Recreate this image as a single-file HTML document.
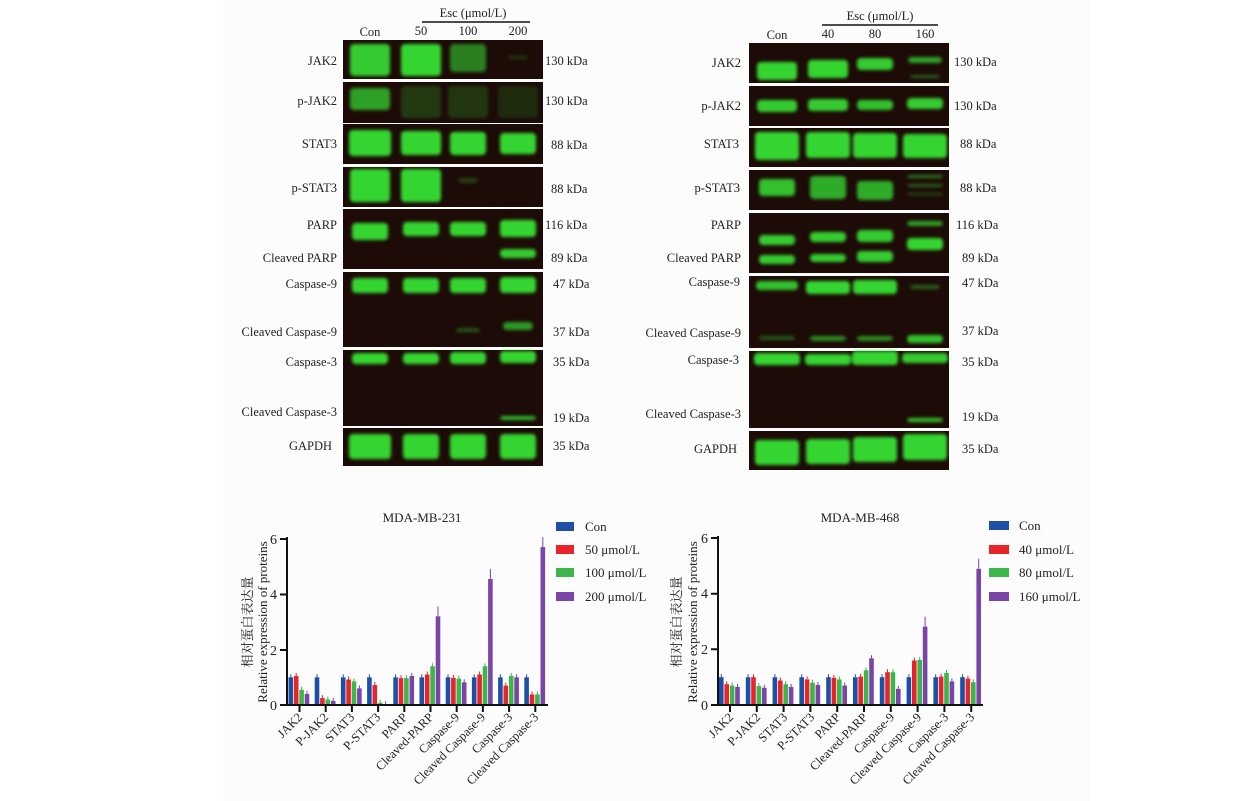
<!DOCTYPE html>
<html><head><meta charset="utf-8"><style>
html,body{margin:0;padding:0;background:#fff;}
#wrap{position:relative;width:1255px;height:801px;overflow:hidden;background:#fff;}
#bg{position:absolute;left:223px;top:0;width:867px;height:801px;background:#fcfcfc;}
svg{position:absolute;left:0;top:0;}
text{font-family:"Liberation Serif","Noto Serif CJK SC",serif;fill:#222;}
</style></head><body><div id="wrap"><div id="bg"></div>
<svg id="s" width="1255" height="801" viewBox="0 0 1255 801">
<defs>
<filter id="bl" x="-20%" y="-50%" width="140%" height="200%"><feGaussianBlur stdDeviation="1.6"/></filter>
</defs>
<g id="blots"></g>
<g font-size="12.5" text-anchor="end">
<text x="337" y="65">JAK2</text><text x="337" y="105">p-JAK2</text><text x="337" y="148">STAT3</text>
<text x="337" y="192">p-STAT3</text><text x="337" y="229">PARP</text><text x="337" y="262">Cleaved PARP</text>
<text x="337" y="288">Caspase-9</text><text x="337" y="336">Cleaved Caspase-9</text><text x="337" y="366">Caspase-3</text>
<text x="337" y="416">Cleaved Caspase-3</text><text x="332" y="450">GAPDH</text>
</g>
<g font-size="12.5">
<text x="545" y="65">130 kDa</text><text x="545" y="105">130 kDa</text><text x="551" y="149">88 kDa</text>
<text x="551" y="193">88 kDa</text><text x="545" y="229">116 kDa</text><text x="551" y="262">89 kDa</text>
<text x="553" y="288">47 kDa</text><text x="553" y="336">37 kDa</text><text x="553" y="366">35 kDa</text>
<text x="553" y="422">19 kDa</text><text x="553" y="450">35 kDa</text>
</g>
<g font-size="12.5" text-anchor="middle">
<text x="370" y="36">Con</text><text x="421" y="35">50</text><text x="468" y="35">100</text><text x="518" y="35">200</text>
<text x="473" y="17">Esc (μmol/L)</text>
</g>
<line x1="422" y1="22" x2="530" y2="22" stroke="#111" stroke-width="1.5"/>
<g font-size="12.5" text-anchor="end">
<text x="741" y="67">JAK2</text><text x="741" y="110">p-JAK2</text><text x="739" y="148">STAT3</text>
<text x="740" y="192">p-STAT3</text><text x="741" y="229">PARP</text><text x="741" y="262">Cleaved PARP</text>
<text x="740" y="286">Caspase-9</text><text x="741" y="337">Cleaved Caspase-9</text><text x="739" y="364">Caspase-3</text>
<text x="741" y="418">Cleaved Caspase-3</text><text x="737" y="453">GAPDH</text>
</g>
<g font-size="12.5">
<text x="954" y="66">130 kDa</text><text x="954" y="110">130 kDa</text><text x="960" y="148">88 kDa</text>
<text x="960" y="192">88 kDa</text><text x="956" y="229">116 kDa</text><text x="962" y="262">89 kDa</text>
<text x="962" y="287">47 kDa</text><text x="962" y="335">37 kDa</text><text x="962" y="366">35 kDa</text>
<text x="962" y="421">19 kDa</text><text x="962" y="453">35 kDa</text>
</g>
<g font-size="12.5" text-anchor="middle">
<text x="777" y="39">Con</text><text x="828" y="38">40</text><text x="875" y="38">80</text><text x="925" y="38">160</text>
<text x="880" y="20">Esc (μmol/L)</text>
</g>
<line x1="822" y1="25" x2="938" y2="25" stroke="#111" stroke-width="1.5"/>

<g id="bars"></g>
<g font-size="13" text-anchor="middle">
<text x="422" y="522">MDA-MB-231</text><text x="860" y="522">MDA-MB-468</text>
</g>
<g stroke="#111" stroke-width="2" fill="none">
<path d="M287 537 V706 M280 539 H287 M280 594.5 H287 M280 650 H287 M280 705 H548"/>
<path d="M718 536 V706 M711 538 H718 M711 593.7 H718 M711 649.3 H718 M711 705 H983"/>
</g>
<g id="ticks" stroke="#111" stroke-width="2"></g>
<g font-size="14" text-anchor="end">
<text x="277" y="544">6</text><text x="277" y="599">4</text><text x="277" y="655">2</text><text x="277" y="710">0</text>
<text x="708" y="543">6</text><text x="708" y="598">4</text><text x="708" y="654">2</text><text x="708" y="710">0</text>
</g>
<g font-size="13" text-anchor="middle">
<text transform="translate(252,622) rotate(-90)" fill="#555">相对蛋白表达量</text>
<text transform="translate(267,622) rotate(-90)">Relative expression of proteins</text>
<text transform="translate(681,622) rotate(-90)" fill="#555">相对蛋白表达量</text>
<text transform="translate(697,622) rotate(-90)">Relative expression of proteins</text>
</g>
<g font-size="12.5" text-anchor="end">
<text transform="translate(303,718) rotate(-45)">JAK2</text>
<text transform="translate(329,718) rotate(-45)">P-JAK2</text>
<text transform="translate(355,718) rotate(-45)">STAT3</text>
<text transform="translate(381,718) rotate(-45)">P-STAT3</text>
<text transform="translate(408,718) rotate(-45)">PARP</text>
<text transform="translate(434,718) rotate(-45)">Cleaved-PARP</text>
<text transform="translate(460,718) rotate(-45)">Caspase-9</text>
<text transform="translate(486,718) rotate(-45)">Cleaved Caspase-9</text>
<text transform="translate(513,718) rotate(-45)">Caspase-3</text>
<text transform="translate(539,718) rotate(-45)">Cleaved Caspase-3</text>
</g>
<g font-size="12.5" text-anchor="end">
<text transform="translate(734,718) rotate(-45)">JAK2</text>
<text transform="translate(761,718) rotate(-45)">P-JAK2</text>
<text transform="translate(788,718) rotate(-45)">STAT3</text>
<text transform="translate(815,718) rotate(-45)">P-STAT3</text>
<text transform="translate(841,718) rotate(-45)">PARP</text>
<text transform="translate(868,718) rotate(-45)">Cleaved-PARP</text>
<text transform="translate(895,718) rotate(-45)">Caspase-9</text>
<text transform="translate(922,718) rotate(-45)">Cleaved Caspase-9</text>
<text transform="translate(949,718) rotate(-45)">Caspase-3</text>
<text transform="translate(975,718) rotate(-45)">Cleaved Caspase-3</text>
</g>
<rect x="556" y="522" width="18" height="9" fill="#1e4fa6"/><rect x="556" y="545" width="18" height="9" fill="#e8242a"/>
<rect x="556" y="568" width="18" height="9" fill="#3cb54a"/><rect x="556" y="592" width="18" height="9" fill="#7b45a8"/>
<g font-size="13"><text x="585" y="531">Con</text><text x="585" y="554">50 μmol/L</text><text x="585" y="577">100 μmol/L</text><text x="585" y="601">200 μmol/L</text></g>
<rect x="989" y="521" width="20" height="9" fill="#1e4fa6"/><rect x="989" y="545" width="20" height="9" fill="#e8242a"/>
<rect x="989" y="568" width="20" height="9" fill="#3cb54a"/><rect x="989" y="592" width="20" height="9" fill="#7b45a8"/>
<g font-size="13"><text x="1019" y="530">Con</text><text x="1019" y="554">40 μmol/L</text><text x="1019" y="577">80 μmol/L</text><text x="1019" y="601">160 μmol/L</text></g>
</svg></div>
<script>
var NS="http://www.w3.org/2000/svg";
function el(p,t,a){var e=document.createElementNS(NS,t);for(var k in a)e.setAttribute(k,a[k]);p.appendChild(e);return e;}
var B=document.getElementById("blots");
function blot(x0,w,panels,lanes){
 panels.forEach(function(p){
  el(B,"rect",{x:x0,y:p[0],width:w,height:p[1]-p[0],fill:"#1c0b07"});
  var g=el(B,"g",{filter:"url(#bl)"});
  p[2].forEach(function(b){var c=lanes[b[0]],bw=b[4]||36;
   el(g,"rect",{x:c-bw/2,y:b[1],width:bw,height:b[2]-b[1],rx:4,fill:"#36e034","fill-opacity":b[3]});});
 });
}
blot(343,200,[
 [40,79,[[0,44,76,.9,40],[1,44,76,.95,40],[2,44,72,.55],[3,55,60,.15,20]]],
 [82,123,[[0,88,110,.7,40],[1,86,118,.22,40],[2,86,118,.2,40],[3,86,118,.15,40]]],
 [124,164,[[0,130,156,.95,42],[1,131,155,.95,40],[2,132,155,.95],[3,133,154,.95]]],
 [167,207,[[0,169,202,.95,40],[1,169,202,.95,40],[2,178,183,.25,20]]],
 [209,269,[[0,223,240,.95],[1,222,236,.95],[2,222,236,.95],[3,220,237,.95],[3,249,258,.9]]],
 [272,347,[[0,278,293,.95],[1,278,293,.95],[2,278,293,.95],[3,277,293,.95],[2,328,332,.35,24],[3,322,330,.65,30]]],
 [350,426,[[0,353,364,.95],[1,353,364,.95],[2,352,364,.95],[3,351,363,.95],[3,416,420,.8]]],
 [428,466,[[0,434,459,.95,42],[1,434,459,.95],[2,434,459,.95],[3,434,459,.95]]]
],[370,421,468,518]);
blot(749,200,[
 [43,83,[[0,62,80,.95,40],[1,60,78,.95,40],[2,58,70,.9],[3,57,63,.7,34],[3,75,78,.4,30]]],
 [86,126,[[0,100,112,.9,40],[1,99,111,.9,40],[2,100,110,.85],[3,98,109,.9]]],
 [128,167,[[0,132,160,.95,44],[1,132,158,.95,44],[2,133,158,.95,44],[3,134,158,.95,44]]],
 [170,210,[[0,179,196,.85],[1,176,199,.75],[2,181,200,.75],[3,175,178,.5],[3,184,187,.4],[3,193,195,.35]]],
 [213,273,[[0,235,245,.9],[1,232,242,.9],[2,230,242,.9],[3,221,226,.7],[3,238,250,.95],[0,255,264,.9],[1,254,262,.9],[2,251,262,.9]]],
 [276,348,[[0,281,290,.85,42],[1,281,294,.95,44],[2,280,294,.95,44],[3,285,289,.4,30],[0,336,340,.35],[1,336,341,.6],[2,336,341,.6],[3,335,343,.85]]],
 [351,428,[[0,353,365,.95,46],[1,354,365,.95,46],[2,351,365,.95,46],[3,353,363,.9,46],[3,418,422,.85]]],
 [431,470,[[0,440,465,.95,44],[1,439,464,.95,44],[2,437,462,.95,44],[3,434,460,.95,44]]]
],[777,828,875,925]);
var C=["#1e4fa6","#e8242a","#3cb54a","#7b45a8"];
var G=document.getElementById("bars"),T=document.getElementById("ticks");
function chart(t0,sp,y0,u,data){
 data.forEach(function(d,i){var t=t0+i*sp;
  el(T,"line",{x1:t,y1:705,x2:t,y2:712});
  d.forEach(function(v,j){var x=t-11+j*5.4,h=v*u;
   el(G,"rect",{x:x,y:y0-h,width:4.6,height:h,fill:C[j]});
   el(G,"line",{x1:x+2.3,y1:y0-h,x2:x+2.3,y2:y0-h-(v>2?10:3),stroke:C[j],"stroke-width":1});
  });
 });
}
chart(299.5,26.2,705,27.7,[[1,1.05,.55,.4],[1,.25,.2,.15],[1,.92,.85,.6],[1,.72,.08,.03],[1,.97,.97,1.05],[1,1.1,1.4,3.2],[1,.98,.95,.82],[1,1.1,1.4,4.55],[1,.7,1.05,1],[1,.38,.38,5.7]]);
chart(730,26.8,705,27.8,[[1,.75,.7,.65],[1,1,.68,.62],[1,.88,.75,.65],[1,.92,.8,.72],[1,.98,.92,.7],[1,1.02,1.25,1.68],[1,1.18,1.18,.58],[1,1.6,1.62,2.82],[1,1.02,1.15,.85],[1,.95,.82,4.9]]);
</script>
</body></html>
